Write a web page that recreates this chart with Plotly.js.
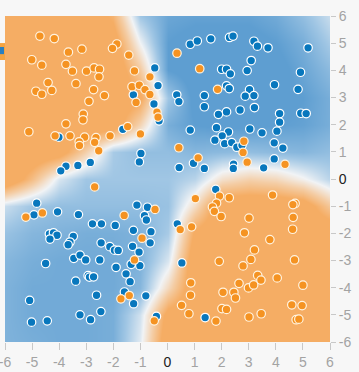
<!DOCTYPE html>
<html><head><meta charset="utf-8">
<script src="https://cdn.plot.ly/plotly-3.0.1.min.js"></script>
<style>html,body{margin:0;padding:0;background:#f7f7f7;}#chart{width:359px;height:372px;}</style>
</head><body><div id="chart"></div>
<script>
// Background decision field (+ = blue, - = orange) on an integer grid
const gridX = [-6,-5,-4,-3,-2,-1,0,1,2,3,4,5,6];
const gridYTopDown = [6,5,4,3,2,1,0,-1,-2,-3,-4,-5,-6];
const fieldRowsTopDown = [
  [-1.4,-1.4,-1.4,-1.4,-0.9,0.5,0.9,0.95,0.95,0.95,0.85,0.6,0.25],
  [-1.4,-1.4,-1.4,-1.4,-1.3,0.0,1.0,1.1,1.1,1.1,1.0,0.8,0.45],
  [-1.4,-1.4,-1.4,-1.4,-1.4,-0.55,1.0,1.15,1.2,1.2,1.1,0.9,0.65],
  [-1.4,-1.4,-1.4,-1.4,-1.4,-1.1,0.5,1.1,1.2,1.2,1.1,1.0,0.8],
  [-1.4,-1.4,-1.4,-1.4,-1.3,-0.4,0.8,1.0,1.05,1.05,1.0,0.95,0.8],
  [-1.4,-1.4,-1.25,-0.45,0.45,0.6,0.6,0.7,0.65,0.6,0.65,0.7,0.6],
  [-1.5,-0.75,0.15,0.5,0.5,0.5,0.5,0.35,-0.25,-0.45,-0.35,-0.05,0.35],
  [0.25,0.5,0.6,0.6,0.6,0.6,0.55,-0.3,-1.4,-1.4,-1.4,-1.3,-0.6],
  [0.55,0.7,0.75,0.8,0.8,0.75,0.45,-1.1,-1.4,-1.4,-1.4,-1.4,-1.4],
  [0.7,0.8,0.85,0.85,0.85,0.75,0.15,-1.4,-1.4,-1.4,-1.4,-1.4,-1.4],
  [0.75,0.85,0.85,0.85,0.85,0.7,-0.35,-1.4,-1.4,-1.4,-1.4,-1.4,-1.4],
  [0.75,0.85,0.85,0.85,0.8,0.2,-1.2,-1.4,-1.4,-1.4,-1.4,-1.4,-1.4],
  [0.75,0.8,0.85,0.85,0.8,0.1,-1.4,-1.4,-1.4,-1.4,-1.4,-1.4,-1.4]
];

// Orange class points
const orangeX = [-4.71,-4.18,-3.66,-3.16,-1.87,-2.03,-1.43,-5.01,-4.64,-3.75,-3.51,-2.99,-2.71,-2.51,-2.53,-1.22,-0.65,-4.41,-4.27,-4.86,-4.64,-3.38,-2.73,-2.33,-1.31,-1.04,-0.83,-0.65,-2.90,-1.16,-3.11,-3.12,-0.39,-0.35,-3.75,-5.12,-4.15,-3.60,-3.06,-3.26,-3.25,-2.64,-2.69,-2.12,-1.47,-1.00,-2.54,0.35,1.19,1.85,0.42,2.82,2.79,2.94,1.13,4.34,-2.69,-5.23,-4.62,-1.60,-0.46,-0.94,-1.22,-1.72,-1.41,-0.49,0.47,0.89,1.03,1.92,2.28,1.81,1.66,1.73,1.98,3.88,4.71,4.63,3.01,4.64,2.84,4.62,3.78,3.21,3.08,1.91,4.69,2.79,0.86,0.85,0.52,0.79,1.79,2.05,2.45,2.51,2.64,2.99,3.18,3.33,3.45,4.05,5.00,2.01,2.18,3.01,3.46,4.59,4.97,4.75,4.85];
const orangeY = [5.26,5.17,4.67,4.78,4.97,4.81,4.56,4.39,4.19,4.22,3.97,3.97,4.09,4.04,3.76,3.98,3.76,3.55,3.26,3.23,3.12,3.51,3.29,3.07,3.40,3.45,3.29,3.11,2.86,2.82,2.39,2.18,2.46,2.28,2.03,1.74,1.59,1.59,1.54,1.37,1.23,1.52,1.35,1.59,1.93,1.66,1.04,4.63,4.06,3.30,1.15,1.39,0.98,0.62,0.78,0.54,-0.29,-1.40,-1.25,-1.34,-1.12,-2.18,-2.98,-4.41,-4.29,-5.22,-1.86,-1.76,-0.72,-0.63,-0.69,-0.89,-1.03,-1.19,-1.38,-0.59,-0.90,-0.94,-1.44,-1.41,-1.98,-1.85,-2.23,-2.61,-2.96,-3.03,-2.98,-3.20,-3.82,-4.28,-4.65,-4.96,-5.23,-4.17,-4.17,-4.38,-3.84,-4.01,-3.90,-3.55,-3.72,-3.64,-3.91,-4.77,-4.80,-5.08,-4.96,-4.63,-4.66,-5.18,-5.16];

// Blue class points
const blueX = [-0.47,-0.35,-1.26,-0.50,-0.31,-1.65,-4.01,-0.98,-1.04,-2.85,-3.31,-3.75,-3.94,0.34,0.42,0.43,0.84,1.10,1.60,2.29,2.42,3.19,3.32,3.71,5.19,3.09,2.00,2.18,2.32,2.94,4.91,3.95,4.82,2.18,2.28,3.03,2.87,3.19,1.36,1.36,1.88,2.18,2.68,3.21,4.14,4.14,4.92,5.12,0.84,1.81,2.25,2.02,3.04,3.49,4.04,1.75,2.11,2.37,2.56,2.75,3.94,4.26,0.96,1.36,2.44,2.43,3.55,3.94,1.78,0.36,0.53,1.39,-4.83,-4.93,-4.06,-3.29,-2.77,-2.44,-1.93,-1.13,-0.74,-0.85,-0.78,-4.36,-4.21,-4.08,-4.34,-3.48,-3.60,-3.67,-2.45,-2.13,-1.96,-1.82,-1.26,-0.61,-0.64,-1.29,-1.05,-4.50,-3.46,-3.23,-3.02,-2.50,-1.34,-1.02,-1.90,-1.53,-1.38,-3.39,-2.93,-2.88,-2.73,-2.62,-1.59,-1.25,-0.80,-5.09,-5.02,-4.44,-3.23,-2.84,-2.46,-0.41];
const blueY = [4.09,3.44,3.10,2.76,2.14,1.83,1.54,0.94,0.63,0.61,0.50,0.47,0.30,3.10,2.85,0.42,4.96,5.08,5.16,5.21,5.26,5.07,4.89,4.83,4.83,4.36,4.04,4.04,3.87,3.99,3.93,3.47,3.30,3.43,3.33,3.29,3.05,3.07,3.07,2.66,2.38,2.47,2.54,2.63,2.41,2.09,2.42,2.41,1.80,1.89,1.73,1.59,1.84,1.70,1.76,1.43,1.30,1.34,1.17,1.24,1.33,1.14,0.58,0.39,0.55,0.39,0.41,0.74,-0.38,-1.65,-3.09,-5.10,-0.89,-1.32,-1.21,-1.31,-1.65,-1.65,-1.71,-0.96,-1.04,-1.35,-1.51,-2.02,-1.98,-2.07,-2.21,-2.11,-2.32,-2.42,-2.35,-2.49,-2.62,-2.63,-1.89,-1.94,-2.35,-2.48,-2.69,-3.11,-2.92,-2.80,-2.98,-2.98,-3.14,-3.19,-3.25,-3.49,-3.78,-3.76,-3.56,-3.61,-3.60,-4.28,-4.16,-4.59,-4.30,-4.47,-5.27,-5.22,-5.00,-5.18,-4.88,-5.06];

// Axis ticks
const tickValues = [-6,-5,-4,-3,-2,-1,0,1,2,3,4,5,6];
const tickLabels = tickValues.map(v => v === 0 ? "<span style='color:#222'>0</span>" : String(v));

const gridY = gridYTopDown.slice().reverse();
const fieldZ = fieldRowsTopDown.slice().reverse();

const traces = [
  {
    type: 'heatmap', x: gridX, y: gridY, z: fieldZ,
    zmin: -1, zmax: 1, zsmooth: 'best', showscale: false, hoverinfo: 'skip',
    colorscale: [[0,'rgb(245,173,100)'],[0.25,'rgb(244,205,165)'],[0.5,'rgb(241,243,245)'],[0.75,'rgb(160,198,228)'],[1,'rgb(94,158,209)']]
  },
  {
    type: 'scatter', mode: 'markers', x: blueX, y: blueY, hoverinfo: 'skip',
    marker: {color: '#0877bd', size: 8.5, line: {color: '#ffffff', width: 1.2}}
  },
  {
    type: 'scatter', mode: 'markers', x: orangeX, y: orangeY, hoverinfo: 'skip',
    marker: {color: '#f59322', size: 8.5, line: {color: '#fff3e0', width: 1.2}}
  }
];

const axisFont = {family: 'Liberation Sans, Arial, sans-serif', size: 14, color: '#a3a3a3'};
const layout = {
  width: 359, height: 372,
  margin: {l: 5, r: 29, t: 16, b: 30, pad: 0},
  paper_bgcolor: '#f7f7f7', plot_bgcolor: '#f7f7f7',
  showlegend: false,
  xaxis: {
    range: [-6, 6], tickmode: 'array', tickvals: tickValues, ticktext: tickLabels,
    ticks: 'outside', ticklen: 7, tickcolor: '#c8c8c8', tickwidth: 1, ticklabeloverflow: 'allow',
    showgrid: false, zeroline: false, showline: false, tickfont: axisFont, fixedrange: true
  },
  yaxis: {
    range: [-6, 6], side: 'right', tickmode: 'array', tickvals: tickValues, ticktext: tickLabels,
    ticks: 'outside', ticklen: 5, tickcolor: '#c8c8c8', tickwidth: 1, ticklabeloverflow: 'allow',
    showgrid: false, zeroline: false, showline: false, tickfont: axisFont, fixedrange: true
  },
  shapes: [
    {type: 'rect', xref: 'paper', yref: 'paper', x0: -0.0154, x1: 0, y0: 0.865, y1: 0.917,
     fillcolor: '#f5a340', line: {width: 0}, layer: 'above'},
    {type: 'rect', xref: 'paper', yref: 'paper', x0: -0.0154, x1: -0.003, y0: 0.883, y1: 0.905,
     fillcolor: '#2a7fc0', line: {width: 0}, layer: 'above'}
  ]
};

Plotly.newPlot('chart', traces, layout, {displayModeBar: false, staticPlot: true});
</script>
</body></html>
